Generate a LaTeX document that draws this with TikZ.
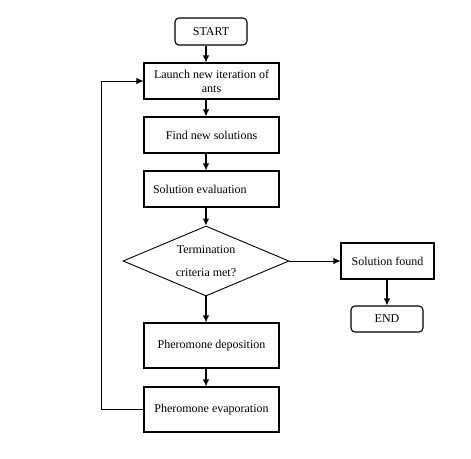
\documentclass[tikz,border=0pt]{standalone}
\usepackage{fontspec}
\setmainfont{Liberation Serif}
\usetikzlibrary{shapes.geometric,arrows.meta}

\begin{document}
\begin{tikzpicture}[x=1pt,y=-1pt,
        box/.style={draw,line width=1.1pt,minimum width=135pt,minimum height=36pt,inner sep=2pt,align=center,font=\fontsize{12}{14}\selectfont},
        endbox/.style={draw,line width=1.1pt,rounded corners=4pt,minimum width=72pt,minimum height=27pt,font=\fontsize{12}{14}\selectfont},
        decision/.style={draw,line width=0.9pt,diamond,aspect=2.37,inner sep=0pt,minimum width=166pt,minimum height=70pt,align=center,font=\fontsize{12}{14}\selectfont},
        arr/.style={-{Latex[length=7pt,width=6.5pt]},line width=1.1pt}]
        \useasboundingbox(0,0)rectangle(471,458);

        \node[endbox](start)at(211,31.5){START};
        \node[box](launch)at(211.5,81){Launch new iteration of\\ants};
        \node[box](find)at(211.5,135){Find new solutions};
        \node[box](eval)at(211.5,189){\makebox[117pt][l]{Solution evaluation}};
        \node[decision](crit)at(206,261){Termination\\[9pt]criteria met?};
        \node[box,minimum width=93pt](found)at(387.5,261){Solution found};
        \node[endbox,minimum height=26pt](end)at(387,319){END};
        \node[box,minimum height=45pt](depo)at(211.5,345.5){Pheromone deposition};
        \node[box,minimum height=45pt](evap)at(211.5,409.5){Pheromone evaporation};

        \draw[arr](start.south-|crit.north)--(launch.north-|crit.north);
        \draw[arr](launch.south-|crit.north)--(find.north-|crit.north);
        \draw[arr](find.south-|crit.north)--(eval.north-|crit.north);
        \draw[arr](eval.south-|crit.north)--(crit.north);
        \draw[arr,line width=0.9pt](crit.east)--(found.west);
        \draw[arr](found.south-|end.north)--(end.north);
        \draw[arr](crit.south)--(depo.north-|crit.south);
        \draw[arr](depo.south-|crit.south)--(evap.north-|crit.south);

        % loop back
        \draw[arr,line width=0.9pt](evap.west)--++(-42,0)|-(launch.west);
    \end{tikzpicture}
\end{document}
